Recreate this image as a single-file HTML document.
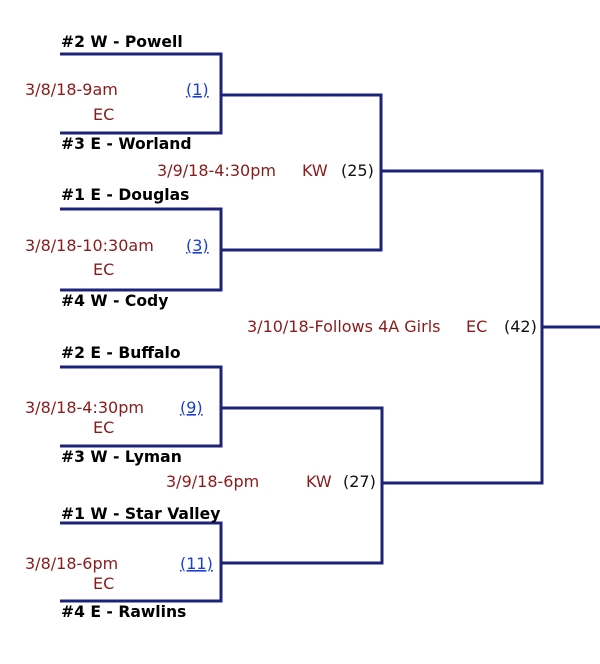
<!DOCTYPE html>
<html><head><meta charset="utf-8"><style>
html,body{margin:0;padding:0;background:#fff;}
svg{display:block}
.n{font-family:"DejaVu Sans",Verdana,sans-serif;font-weight:bold;font-size:15.6px;fill:#000}
.d{font-family:"DejaVu Sans",Verdana,sans-serif;font-size:16px;fill:#8b1a1a}
.k{font-family:"DejaVu Sans",Verdana,sans-serif;font-size:16px;fill:#111}
.l{font-family:"DejaVu Sans",Verdana,sans-serif;font-size:16px;fill:#1a3fd6;text-decoration:underline}
</style></head><body>
<svg width="600" height="664" viewBox="0 0 600 664">
<g fill="none" stroke="#1c2378" stroke-width="3">
<polyline points="60,54 221,54 221,133 60,133"/>
<polyline points="60,209 221,209 221,290 60,290"/>
<polyline points="60,367 221,367 221,446 60,446"/>
<polyline points="60,523 221,523 221,601 60,601"/>
<polyline points="221,95 381,95 381,250 221,250"/>
<polyline points="221,408 382,408 382,563 221,563"/>
<polyline points="381,171 542,171 542,483 382,483"/>
<line x1="542" y1="327" x2="600" y2="327"/>
</g>
<text class="n" x="61" y="47">#2 W - Powell</text>
<text class="n" x="61" y="149">#3 E - Worland</text>
<text class="n" x="61" y="200">#1 E - Douglas</text>
<text class="n" x="61" y="306">#4 W - Cody</text>
<text class="n" x="61" y="358">#2 E - Buffalo</text>
<text class="n" x="61" y="462">#3 W - Lyman</text>
<text class="n" x="61" y="519">#1 W - Star Valley</text>
<text class="n" x="61" y="617">#4 E - Rawlins</text>

<text class="d" x="25" y="95">3/8/18-9am</text>
<text class="d" x="93" y="120">EC</text>
<text class="l" x="186" y="95">(1)</text>

<text class="d" x="25" y="251">3/8/18-10:30am</text>
<text class="d" x="93" y="275">EC</text>
<text class="l" x="186" y="251">(3)</text>

<text class="d" x="25" y="413">3/8/18-4:30pm</text>
<text class="d" x="93" y="433">EC</text>
<text class="l" x="180" y="413">(9)</text>

<text class="d" x="25" y="569">3/8/18-6pm</text>
<text class="d" x="93" y="589">EC</text>
<text class="l" x="180" y="569">(11)</text>

<text class="d" x="157" y="176">3/9/18-4:30pm</text>
<text class="d" x="302" y="176">KW</text>
<text class="k" x="341" y="176">(25)</text>

<text class="d" x="166" y="487">3/9/18-6pm</text>
<text class="d" x="306" y="487">KW</text>
<text class="k" x="343" y="487">(27)</text>

<text class="d" x="247" y="332">3/10/18-Follows 4A Girls</text>
<text class="d" x="466" y="332">EC</text>
<text class="k" x="504" y="332">(42)</text>
</svg>
</body></html>
